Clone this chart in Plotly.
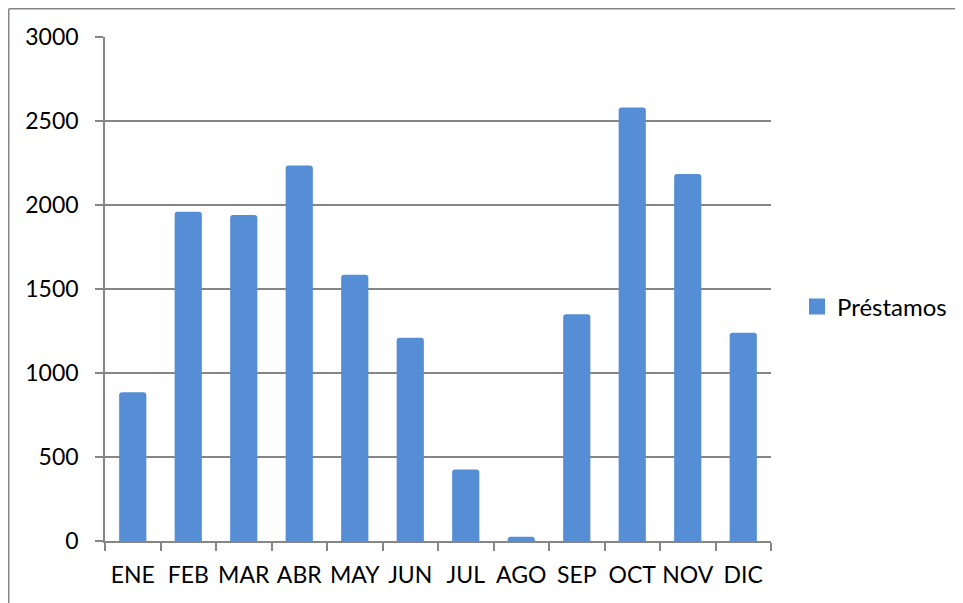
import plotly.graph_objects as go

months = ["ENE", "FEB", "MAR", "ABR", "MAY", "JUN", "JUL", "AGO", "SEP", "OCT", "NOV", "DIC"]
prestamos = [885, 1960, 1940, 2235, 1585, 1210, 425, 25, 1350, 2580, 2185, 1240]
y_ticks = [0, 500, 1000, 1500, 2000, 2500, 3000]

# page offset of the plot div (body margin)
OFF = 8
W, H = 963, 603
# plot area in page pixels
L, R, T, B = 105, 771, 37, 541

GRAY = "#868686"
BLUE = "#558ed5"
FONT = dict(family="Lato, Carlito, Calibri, sans-serif", size=23, color="#000000")
LEG_FONT = dict(family="Lato, Carlito, Calibri, sans-serif", size=24, color="#000000")

fig = go.Figure()
fig.add_trace(go.Bar(
    x=months, y=prestamos, name="Préstamos",
    marker=dict(color=BLUE, cornerradius=3, line=dict(width=0)),
    showlegend=False,
))
# legend-only entry with a larger square swatch
fig.add_trace(go.Scatter(
    x=[None], y=[None], mode="markers", name="Préstamos",
    marker=dict(symbol="square", size=18, color=BLUE),
    showlegend=True, hoverinfo="skip",
))

def px_x(p):
    return (p - L) / (R - L)

def px_y(p):
    return (B - p) / (B - T)

fig.update_layout(
    width=W, height=H,
    margin=dict(l=L - OFF, r=W - (R - OFF), t=T - OFF, b=H - (B - OFF), pad=0),
    paper_bgcolor="white", plot_bgcolor="white",
    font=FONT,
    bargap=0.51,
    showlegend=True,
    legend=dict(x=px_x(797), y=px_y(307), xanchor="left", yanchor="middle",
                font=LEG_FONT, bgcolor="rgba(0,0,0,0)"),
    xaxis=dict(showline=True, linecolor=GRAY, linewidth=1.5,
               ticks="outside", ticklen=8, tickcolor=GRAY, tickwidth=1.5,
               tickson="boundaries", showgrid=False, ticklabelstandoff=13,
               tickangle=0, automargin=False),
    yaxis=dict(range=[0, 3000], tickvals=y_ticks, showline=True, linecolor=GRAY,
               linewidth=1.5, ticks="outside", ticklen=8, tickcolor=GRAY,
               tickwidth=1.5, showgrid=True, gridcolor=GRAY, gridwidth=1.5,
               zeroline=False, ticklabelstandoff=12, automargin=False),
    shapes=[
        dict(type="line", xref="paper", yref="paper", x0=px_x(OFF + 0.75), x1=px_x(980),
             y0=px_y(OFF + 0.75), y1=px_y(OFF + 0.75), line=dict(color=GRAY, width=1.5)),
        dict(type="line", xref="paper", yref="paper", x0=px_x(OFF + 0.75), x1=px_x(OFF + 0.75),
             y0=px_y(OFF + 0.75), y1=px_y(620), line=dict(color=GRAY, width=1.5)),
    ],
)

fig.write_html("out.html")
